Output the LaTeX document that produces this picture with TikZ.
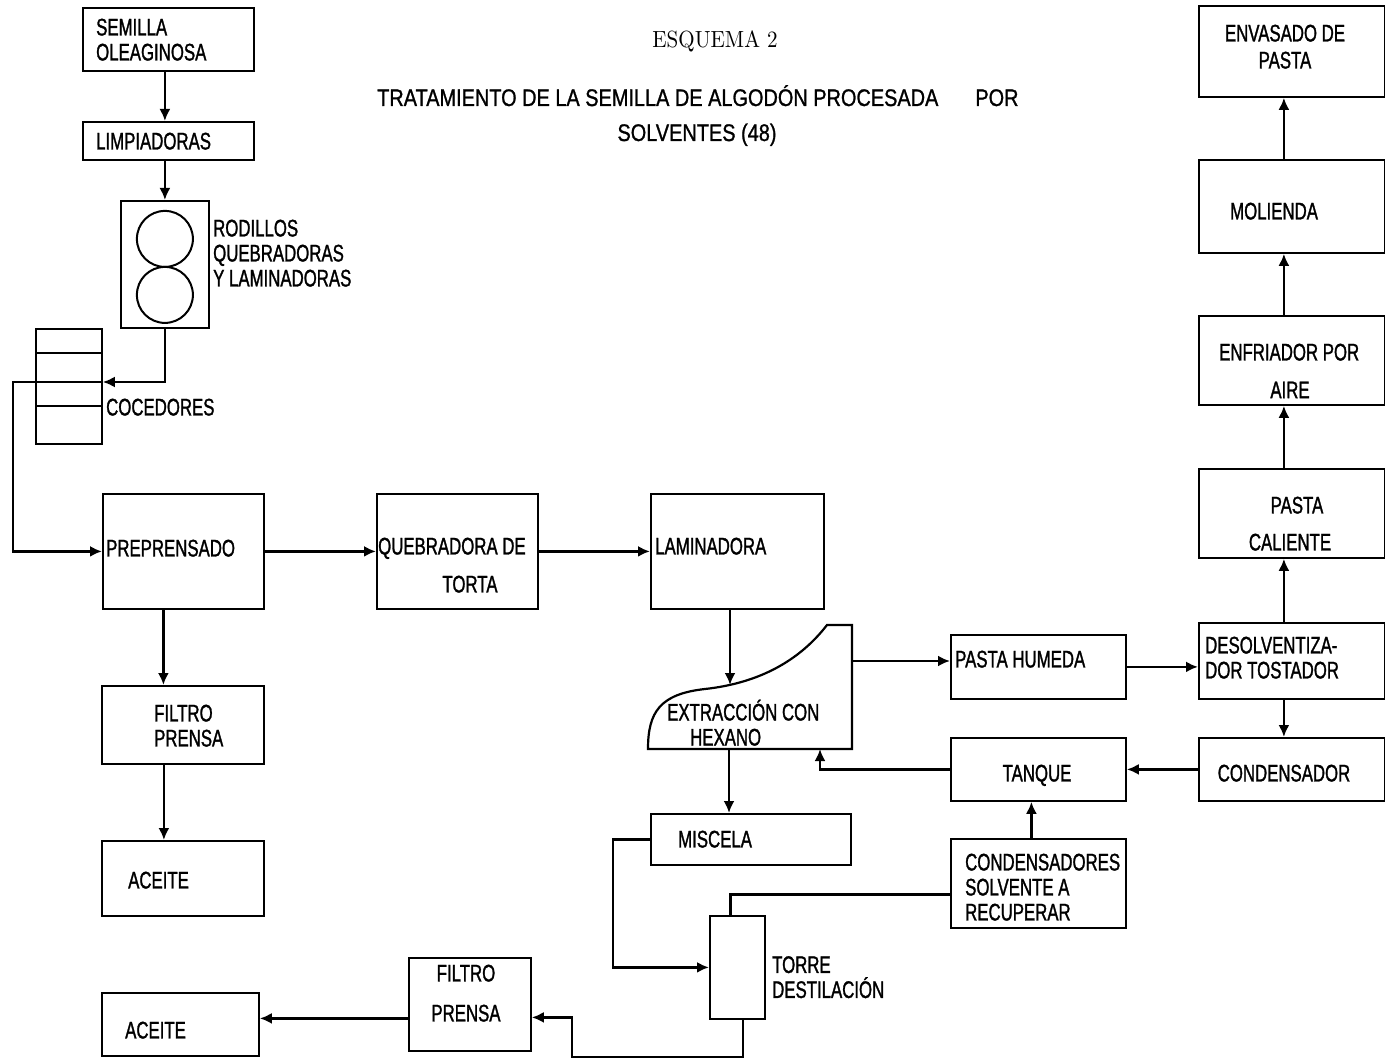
\documentclass[tikz,border=0pt]{standalone}
\usepackage{fontspec}
\setmainfont{Liberation Sans}[FakeStretch=0.7, FakeBold=1.2]
\newfontfamily\titlefont{Liberation Sans}[FakeStretch=0.83, FakeBold=1]
\newfontfamily\esquemafont{lmroman10-regular.otf}[FakeStretch=0.9]
\usetikzlibrary{arrows.meta}

\begin{document}
\begin{tikzpicture}[x=1pt, y=-1pt,
    box/.style={draw, line width=1.8pt, inner sep=0pt, anchor=north west},
    txt/.style={inner sep=0pt, anchor=north west, align=left, font=\fontsize{24}{25}\selectfont},
    flow/.style={line width=2.8pt, -{Latex[length=12pt,width=11pt]}},
    link/.style={line width=2.8pt}]
    \useasboundingbox (0,0) rectangle (1385,1059);
    \fill[white] (0,0) rectangle (1385,1059);

    % Titulo
    \node[font=\esquemafont\fontsize{23.4}{26}\selectfont, anchor=base, inner sep=0pt] (esquema) at (715,48) {ESQUEMA 2};
    \node[font=\titlefont\fontsize{24}{26}\selectfont, anchor=base west, inner sep=0pt] (titulo) at (377,106) {TRATAMIENTO DE LA SEMILLA DE ALGODÓN PROCESADA\hspace{37pt}POR};
    \node[font=\titlefont\fontsize{24}{26}\selectfont, anchor=base, inner sep=0pt] (titulo2) at (697,141) {SOLVENTES (48)};

    % Preparacion de la semilla
    \node[box, minimum width=171, minimum height=63] (semilla) at (82,7) {};
    \node[txt] (semilla-t) at (96,18.5) {SEMILLA\\OLEAGINOSA};
    \node[box, minimum width=171, minimum height=38] (limp) at (82,121) {};
    \node[txt] (limp-t) at (96,132.5) {LIMPIADORAS};
    \node[box, minimum width=88, minimum height=127] (rod) at (120,200) {};
    \draw[line width=2pt] ([yshift=25.5pt]rod.center) circle (28pt);
    \draw[line width=2pt] ([yshift=-30.5pt]rod.center) circle (28pt);
    \node[txt] (rod-t) at (213,219.5) {RODILLOS\\QUEBRADORAS\\Y LAMINADORAS};
    \node[box, minimum width=66, minimum height=115] (coc) at (35,328) {};
    \foreach \d in {25,54,78}
        \draw[line width=1.8pt] ([yshift=-\d pt]coc.north west) -- ++(68,0);
    \coordinate (coc-r) at ([yshift=-54pt]coc.north east);
    \coordinate (coc-l) at ([yshift=-54pt]coc.north west);
    \node[txt] (coc-t) at (106,398.5) {COCEDORES};

    % Prensado
    \node[box, minimum width=161, minimum height=115] (prep) at (102,493) {};
    \node[txt] (prep-t) at (106,539.5) {PREPRENSADO};
    \node[box, minimum width=161, minimum height=115] (queb) at (376,493) {};
    \node[txt] (queb-t) at (378,537.5) {QUEBRADORA DE};
    \node[txt, anchor=north] (queb-t2) at (470,575.5) {TORTA};
    \node[box, minimum width=173, minimum height=115] (lamin) at (650,493) {};
    \node[txt] (lamin-t) at (655,537.5) {LAMINADORA};
    \node[box, minimum width=162, minimum height=78] (filtro1) at (101,685) {};
    \node[txt] (filtro1-t) at (154,704.5) {FILTRO\\PRENSA};
    \node[box, minimum width=162, minimum height=75] (aceite1) at (101,840) {};
    \node[txt] (aceite1-t) at (128,871.5) {ACEITE};

    % Extraccion
    \draw[line width=2.2pt] (648,749) .. controls (648,712) and (660,694) .. (705,689)
        .. controls (760,683) and (800,660) .. (827,625) -- (852,625) -- (852,749) -- cycle;
    \coordinate (ext-top) at (730,685);
    \coordinate (ext-bot) at (729,749);
    \coordinate (ext-der) at (852,661);
    \coordinate (ext-ret) at (820,749);
    \node[txt] (ext-t) at (667,699.5) {EXTRACCIÓN CON\\\hspace*{23pt}HEXANO};
    \node[box, minimum width=200, minimum height=51] (misc) at (650,813) {};
    \node[txt] (misc-t) at (678,830.5) {MISCELA};
    \node[box, minimum width=55, minimum height=103] (torre) at (709,915) {};
    \node[txt] (torre-t) at (772,956) {TORRE\\DESTILACIÓN};
    \node[box, minimum width=122, minimum height=93] (filtro2) at (408,957) {};
    \node[txt, anchor=north, align=center] (filtro2-t) at (466,964.5) {FILTRO\\[15pt]PRENSA};
    \node[box, minimum width=157, minimum height=63] (aceite2) at (101,992) {};
    \node[txt] (aceite2-t) at (125,1021.5) {ACEITE};
    \coordinate (vuelta) at (572,1057);

    % Solvente y pasta
    \node[box, minimum width=175, minimum height=64] (pastah) at (950,634) {};
    \node[txt] (pastah-t) at (955,650.5) {PASTA HUMEDA};
    \node[box, minimum width=186, minimum height=76] (desolv) at (1198,622) {};
    \node[txt] (desolv-t) at (1205,636.5) {DESOLVENTIZA-\\DOR TOSTADOR};
    \node[box, minimum width=186, minimum height=63] (cond) at (1198,737) {};
    \node[txt, anchor=north] (cond-t) at (1284,764.5) {CONDENSADOR};
    \node[box, minimum width=175, minimum height=63] (tanque) at (950,737) {};
    \node[txt, anchor=north] (tanque-t) at (1037,764.5) {TANQUE};
    \node[box, minimum width=175, minimum height=89] (condres) at (950,838) {};
    \node[txt] (condres-t) at (965,853.5) {CONDENSADORES\\SOLVENTE A\\RECUPERAR};

    % Columna derecha
    \node[box, minimum width=186, minimum height=91] (envasado) at (1198,5) {};
    \node[txt, anchor=north, align=center] (envasado-t) at (1285,24.5) {ENVASADO DE\\[2pt]PASTA};
    \node[box, minimum width=186, minimum height=93] (molienda) at (1198,159) {};
    \node[txt] (molienda-t) at (1230,202.5) {MOLIENDA};
    \node[box, minimum width=186, minimum height=89] (enfriador) at (1198,315) {};
    \node[txt] (enfriador-t) at (1219,343.5) {ENFRIADOR POR};
    \node[txt, anchor=north] (enfriador-t2) at (1290,381.5) {AIRE};
    \node[box, minimum width=186, minimum height=89] (caliente) at (1198,468) {};
    \node[txt, anchor=north] (caliente-t) at (1297,496.5) {PASTA};
    \node[txt, anchor=north] (caliente-t2) at (1290,533.5) {CALIENTE};

    % Flujos
    \draw[flow] (semilla.south -| rod.center) -- (limp.north -| rod.center);
    \draw[flow] (limp.south -| rod.center) -- (rod.north);
    \draw[flow] (rod.south) |- (coc-r);
    \draw[flow] (coc-l) -- ++(-22,0) |- (prep.west);
    \draw[flow] (prep.east) -- (queb.west);
    \draw[flow] (queb.east) -- (lamin.west);
    \draw[flow] ([xshift=-20pt]prep.south) -- ([xshift=-20pt]prep.south |- filtro1.north);
    \draw[flow] ([xshift=-19pt]filtro1.south) -- ([xshift=-19pt]filtro1.south |- aceite1.north);
    \draw[flow] (lamin.south -| ext-top) -- (ext-top);
    \draw[flow] (ext-bot) -- (ext-bot |- misc.north);
    \draw[flow] (ext-der) -- (ext-der -| pastah.west);
    \draw[flow] (pastah.east) -- (pastah.east -| desolv.west);
    \draw[flow] ([xshift=-8pt]desolv.south) -- ([xshift=-8pt]desolv.south |- cond.north);
    \draw[flow] (cond.west) -- (tanque.east);
    \draw[flow] (tanque.west) -| (ext-ret);
    \draw[flow] ([xshift=-7pt]condres.north) -- ([xshift=-7pt]tanque.south);
    \draw[link] ([xshift=-7pt]torre.north) |- ([yshift=-11pt]condres.west);
    \draw[flow] (misc.west) -- ++(-37,0) |- (torre.west);
    \draw[flow] ([xshift=5.5pt]torre.south) |- (vuelta) |- ([yshift=-13pt]filtro2.east);
    \draw[flow] ([yshift=-14pt]filtro2.west) -- ([yshift=-14pt]filtro2.west -| aceite2.east);
    \foreach \a/\b in {desolv/caliente, caliente/enfriador, enfriador/molienda, molienda/envasado}
        \draw[flow] ([xshift=-8pt]\a.north) -- ([xshift=-8pt]\b.south);
\end{tikzpicture}
\end{document}
